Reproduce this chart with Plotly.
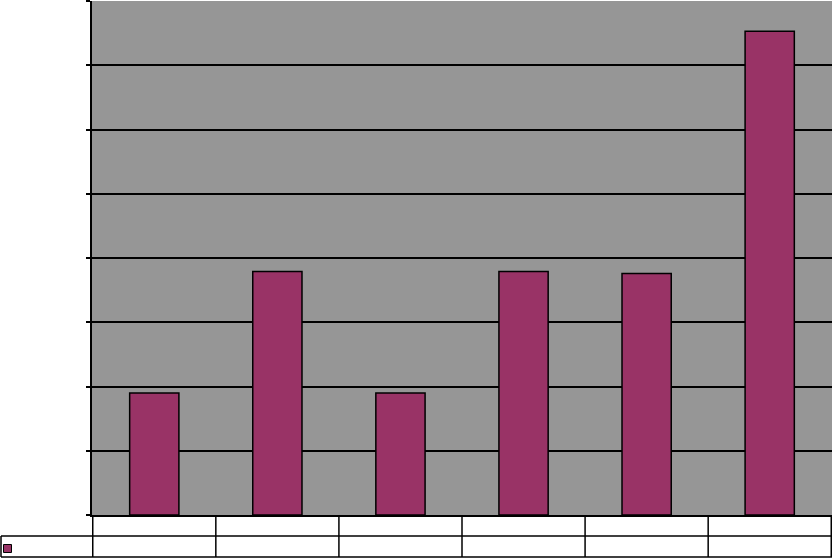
import plotly.graph_objects as go

# Chart data (no visible labels in the reference)
categories = ["c1", "c2", "c3", "c4", "c5", "c6"]
values = [1.90, 3.79, 1.90, 3.79, 3.76, 7.53]
y_ticks = [0, 1, 2, 3, 4, 5, 6, 7, 8]

BAR = "#993366"
PLOT_BG = "#969696"

W, H = 834, 558
L, R, T, B = 92, 2, 1, 43
plot_w = W - L - R
plot_h = H - T - B


def px_x(x):
    # page pixel -> paper x
    return (x - L) / plot_w


def px_y(y):
    # page pixel -> paper y
    return (H - B - y) / plot_h


line = dict(color="black", width=1.5)
shapes = []
# data table grid under the plot
n = len(categories)
for i in range(n + 1):
    shapes.append(dict(type="line", xref="x", yref="paper",
                       x0=i - 0.5, x1=i - 0.5, y0=0, y1=px_y(557), line=line))
shapes.append(dict(type="line", xref="paper", yref="paper",
                   x0=px_x(1), x1=1, y0=px_y(536), y1=px_y(536), line=line))
shapes.append(dict(type="line", xref="paper", yref="paper",
                   x0=px_x(1), x1=1, y0=px_y(557), y1=px_y(557), line=line))
shapes.append(dict(type="line", xref="paper", yref="paper",
                   x0=px_x(1), x1=px_x(1), y0=px_y(536), y1=px_y(557), line=line))
# legend key in the table
shapes.append(dict(type="rect", xref="paper", yref="paper",
                   x0=px_x(3.5), x1=px_x(11.5), y0=px_y(544.5), y1=px_y(552.5),
                   fillcolor=BAR, line=dict(color="black", width=1)))

fig = go.Figure()
fig.add_trace(go.Bar(
    x=categories, y=values, width=0.4,
    marker=dict(color=BAR, line=dict(color="black", width=1.5)),
    showlegend=False, hoverinfo="skip",
))

fig.update_layout(
    width=W, height=H,
    margin=dict(l=L, r=R, t=T, b=B),
    paper_bgcolor="white",
    plot_bgcolor=PLOT_BG,
    shapes=shapes,
    xaxis=dict(showticklabels=False, showgrid=False, ticks="",
               showline=True, linecolor="black", linewidth=1.5),
    yaxis=dict(range=[0, 8], tickvals=y_ticks, showticklabels=False,
               showgrid=True, gridcolor="black", gridwidth=1.5,
               ticks="outside", ticklen=4, tickcolor="black", tickwidth=1.5,
               showline=True, linecolor="black", linewidth=1.5,
               zeroline=False),
)

fig.write_html("out.html", config={"displayModeBar": False},
               post_script="document.body.style.margin='0';")
